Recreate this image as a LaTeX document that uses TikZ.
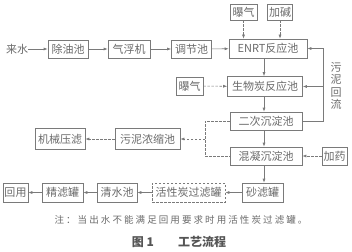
\documentclass[tikz,border=0pt]{standalone}
\usepackage{fontspec}
\setmainfont{Noto Sans CJK SC}
\usetikzlibrary{arrows.meta,calc}
\definecolor{ink}{HTML}{6A6A6A}
\definecolor{lin}{HTML}{7A7A7A}
\begin{document}
\begin{tikzpicture}[x=1pt,y=-1pt,
  box/.style={draw=lin,line width=0.6pt,text=ink,inner sep=0pt,font=\fontsize{11}{12}\selectfont,minimum height=18pt},
  dbox/.style={box,dash pattern=on 2.5pt off 1.5pt},
  lab/.style={text=ink,inner sep=0pt,font=\fontsize{11}{12}\selectfont},
  ar/.style={draw=lin,line width=0.6pt,-{Latex[length=4pt,width=3pt]}},
  ln/.style={draw=lin,line width=0.6pt},
  dar/.style={ar,dash pattern=on 2.5pt off 1.5pt},
  dln/.style={ln,dash pattern=on 2.5pt off 1.5pt}]
\useasboundingbox (0,0) rectangle (352,251);
\node[lab] (laishui) at (17,49) {来水};
\node[box,minimum width=40pt] (chuyou) at (68,49) {除油池};
\node[box,minimum width=42pt] (qifu) at (129,49) {气浮机};
\node[box,minimum width=40pt] (tiaojie) at (191.5,49) {调节池};
\node[box,minimum width=78pt,minimum height=19pt] (enrt) at (268,48.5) {ENRT反应池};
\node[box,minimum width=27pt,minimum height=16pt] (baoqi1) at (243.5,12) {曝气};
\node[box,minimum width=25pt,minimum height=16pt] (jiajian) at (280,12) {加碱};
\node[box,minimum width=75pt,minimum height=20pt] (shengwu) at (265,86.5) {生物炭反应池};
\node[box,minimum width=27pt] (baoqi2) at (189.5,86) {曝气};
\node[box,minimum width=72pt] (erci) at (266,121) {二次沉淀池};
\node[box,minimum width=65pt,minimum height=21pt] (wuni) at (147.5,139) {污泥浓缩池};
\node[box,minimum width=50pt,minimum height=21pt] (jixie) at (60,139) {机械压滤};
\node[box,minimum width=72pt] (hunning) at (266,156) {混凝沉淀池};
\node[box,minimum width=25pt] (jiayao) at (334.5,156) {加药};
\node[box,minimum width=41pt,minimum height=19pt] (shalv) at (262.5,192.5) {砂滤罐};
\node[dbox,minimum width=73pt,minimum height=19pt] (huoxing) at (188.5,192.5) {活性炭过滤罐};
\node[box,minimum width=40pt,minimum height=19pt] (qingshui) at (117,192.5) {清水池};
\node[box,minimum width=41pt,minimum height=19pt] (jinglv) at (62.5,192.5) {精滤罐};
\node[box,minimum width=25pt,minimum height=19pt] (huiyong) at (15.5,192.5) {回用};
\node[lab,align=center,font=\fontsize{11}{12.5}\selectfont] (huiliu) at (336,86) {污\\泥\\回\\流};
\node[text=ink,inner sep=0pt,font=\fontsize{9.5}{11}\selectfont\addfontfeature{LetterSpace=22}] (zhu) at (181,220) {注：当出水不能满足回用要求时用活性炭过滤罐。};
\node[text=ink!80!black,inner sep=0pt,font=\fontsize{12}{13}\selectfont\bfseries] (tu) at (179,242) {图\ 1\qquad 工艺流程};
% main flow
\draw[ar] (laishui) -- (chuyou);
\draw[ar] (chuyou) -- (qifu);
\draw[ar] (qifu) -- (tiaojie);
\draw[ar] (tiaojie) -- (enrt);
\coordinate (vx) at (264,0);
\draw[ar] (enrt.south -| vx) -- (shengwu.north -| vx);
\draw[ar] (shengwu.south -| vx) -- (erci.north -| vx);
\draw[ar] (erci.south -| vx) -- (hunning.north -| vx);
\draw[ar] (hunning.south -| vx) -- (shalv.north -| vx);
\draw[ar] (shalv) -- (huoxing);
\draw[ar] (huoxing) -- (qingshui);
\draw[ar] (qingshui) -- (jinglv);
\draw[ar] (jinglv) -- (huiyong);
% additions
\draw[dar] (baoqi1) -- (baoqi1 |- enrt.north);
\draw[dar] (jiajian) -- (jiajian |- enrt.north);
\draw[dar] (baoqi2) -- (shengwu);
\draw[dar] (jiayao) -- (hunning);
% sludge return
\coordinate (rx) at (323,0);
\draw[ln] (erci.east) -- (erci.east -| rx) -- (enrt.east -| rx);
\draw[ar] (enrt.east -| rx) -- (enrt.east);
\draw[ar] (shengwu.east -| rx) -- (shengwu.east);
% sludge treatment
\coordinate (lx) at (205,0);
\draw[dln] (erci.west) -- (erci.west -| lx) -- (hunning.west -| lx) -- (hunning.west);
\draw[dar] (wuni.east -| lx) -- (wuni.east);
\draw[dar] (wuni) -- (jixie);
\end{tikzpicture}
\end{document}
